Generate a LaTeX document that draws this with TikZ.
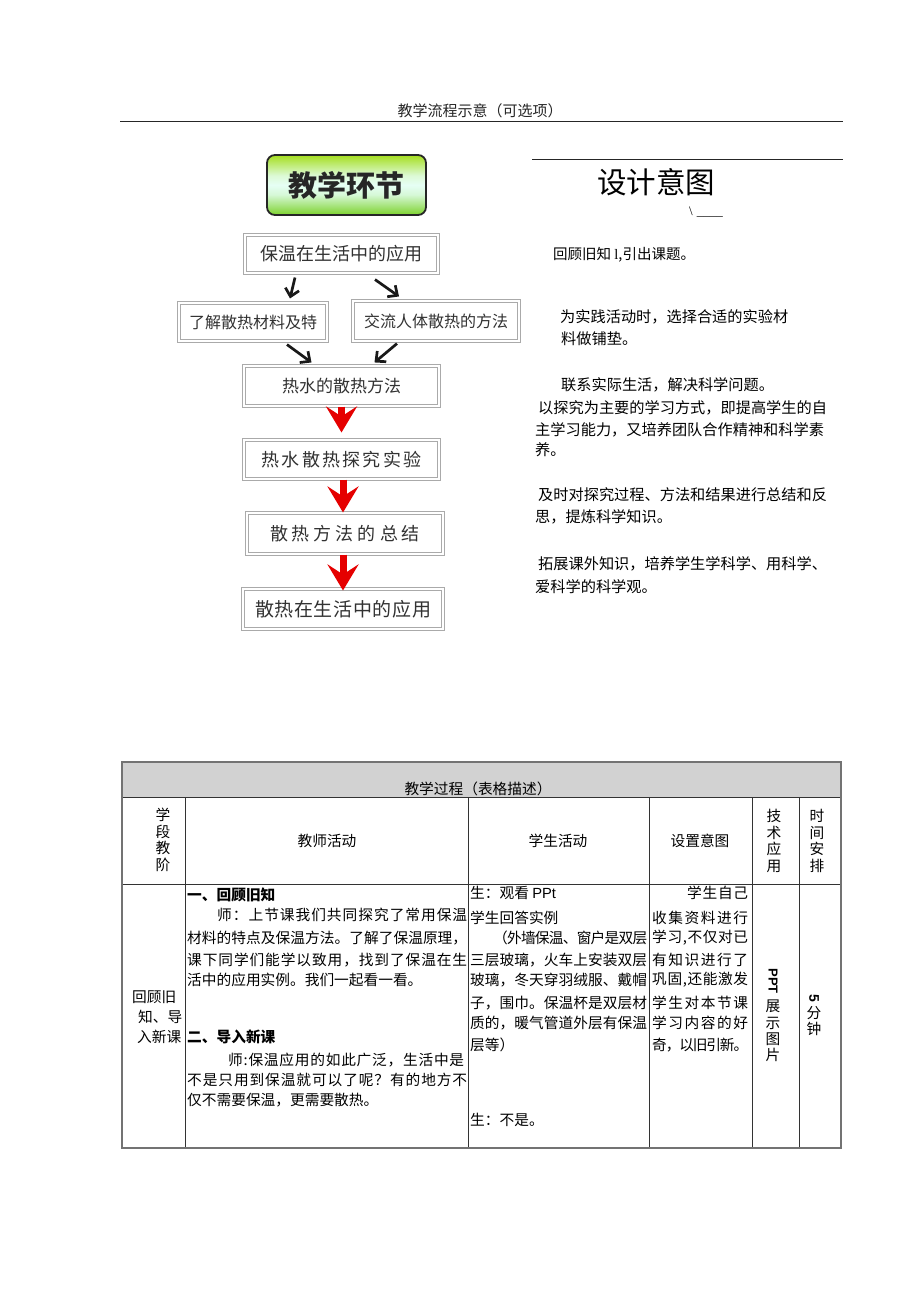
\documentclass[tikz,border=0pt]{standalone}
\usepackage{fontspec}
\setmainfont{Noto Sans CJK SC}
\newfontfamily\latsans{Liberation Sans}
\newfontfamily\latserif{Liberation Serif}
\usetikzlibrary{arrows.meta,calc}
\definecolor{limetop}{RGB}{165,222,30}
\definecolor{palemid}{RGB}{230,255,245}
\definecolor{greenbot}{RGB}{125,210,45}
\definecolor{boxline}{RGB}{170,170,170}
\definecolor{boxtext}{RGB}{50,50,50}
\definecolor{titlegray}{RGB}{210,210,210}
\pgfdeclareverticalshading{greenband}{100bp}{color(0bp)=(greenbot); color(25bp)=(greenbot); color(42bp)=(palemid!85!greenbot); color(50bp)=(palemid); color(58bp)=(palemid!85!limetop); color(75bp)=(limetop); color(100bp)=(limetop)}
\makeatletter
\def\jline#1#2{\makebox[#1][s]{\jl@#2\@nil}}
\def\jl@#1#2{#1\ifx#2\@nil\else\hspace{0pt plus 1fil minus 2pt}\expandafter\jl@\expandafter#2\fi}
\makeatother
\tikzset{
  flowbox/.style={draw=boxline, double=white, double distance=1.5pt, line width=1.1pt,
    inner sep=0pt, text=boxtext},
  blackarrow/.style={line width=2.7pt, black!90, -{Straight Barb[length=7.5pt,width=14pt]}},
  redarrow/.style={red!90!black, line width=7pt, -{Stealth[length=26pt,width=31pt,inset=10pt]}},
  tt/.style={inner sep=0pt, anchor=west, font=\fontsize{14.7}{17}\selectfont},
  rt/.style={inner sep=0pt, anchor=west, font=\fontsize{15.2}{17}\selectfont},
  vt/.style={inner sep=0pt, align=center, font=\fontsize{14.7}{16.7}\selectfont},
  grid/.style={line width=0.8pt, black!80},
}
\begin{document}
\begin{tikzpicture}[x=1pt,y=-1pt]
\useasboundingbox (0,0) rectangle (920,1301);
\fill[white] (0,0) rectangle (920,1301);

% header
\node[inner sep=0pt, font=\fontsize{15}{15}\selectfont, text=black!85] (hdr) at (480,111) {教学流程示意（可选项）};
\draw[line width=0.9pt, black!85] (120,121) -- (843,121);

% flowchart
\node[draw=black!85, line width=1.8pt, rounded corners=8pt, shading=greenband, shading angle=0,
  minimum width=159pt, minimum height=60pt, inner sep=0pt, font=\fontsize{29}{29}\selectfont\bfseries, text=black!85]
  (b0) at (346.5,185) {教学环节};
\node[flowbox, minimum width=193pt, minimum height=38pt, font=\fontsize{18}{18}\selectfont] (b1) at (341.5,254) {保温在生活中的应用};
\node[flowbox, minimum width=148pt, minimum height=38pt, font=\fontsize{16}{16}\selectfont] (b2) at (253,322) {了解散热材料及特};
\node[flowbox, minimum width=166pt, minimum height=40pt, font=\fontsize{16}{16}\selectfont] (b3) at (436,321) {交流人体散热的方法};
\node[flowbox, minimum width=195pt, minimum height=40pt, font=\fontsize{17}{17}\selectfont] (b4) at (341.5,386) {热水的散热方法};
\node[flowbox, minimum width=195pt, minimum height=39pt, font=\fontsize{18}{18}\selectfont] (b5) at (341.5,459.5) {\jline{160pt}{热水散热探究实验}};
\node[flowbox, minimum width=196pt, minimum height=41pt, font=\fontsize{18}{18}\selectfont] (b6) at (345,533.5) {\jline{150pt}{散热方法的总结}};
\node[flowbox, minimum width=200pt, minimum height=40pt, font=\fontsize{19}{19}\selectfont] (b7) at (343,609) {\jline{176pt}{散热在生活中的应用}};

\draw[blackarrow] ($(b1.south)+(-46.5,4)$) -- ($(b2.north)+(37,-4)$);
\draw[blackarrow] ($(b1.south)+(33.5,6)$) -- ($(b3.north)+(-37,-4)$);
\draw[blackarrow] ($(b2.south)+(34,3)$) -- ($(b4.north)+(-30,-3)$);
\draw[blackarrow] ($(b3.south)+(-39,2)$) -- ($(b4.north)+(33,-3)$);

\draw[redarrow] (b4.south) -- ($(b4.south |- b5.north)+(0,-7)$);
\draw[redarrow] ($(b5.south)+(1.5,0)$) -- ($(b5.south |- b6.north)+(1.5,0)$);
\draw[redarrow] ($(b6.south)+(-2,0)$) -- ($(b6.south |- b7.north)+(-2,2)$);

% right column
\draw[line width=0.7pt, black!85] (532,159) -- (843,159);
\node[inner sep=0pt, font=\fontsize{29.5}{30}\selectfont] (sj) at (656,182) {设计意图};
\node[inner sep=0pt, anchor=base west, font=\latserif\fontsize{13}{13}\selectfont] (bs) at (689,215) {\textbackslash\hspace{4pt}\_\_\_\_};
\node[rt, font=\fontsize{14.5}{17}\selectfont] (r1) at (553,255) {回顾旧知 {\latserif l},引出课题。};
\node[rt] (r2) at (560,317) {为实践活动时，选择合适的实验材};
\node[rt] (r3) at (561,339) {料做铺垫。};
\node[rt] (r4) at (561,385) {联系实际生活，解决科学问题。};
\node[rt] (r5) at (538,408) {以探究为主要的学习方式，即提高学生的自};
\node[rt] (r6) at (535,430) {主学习能力，又培养团队合作精神和科学素};
\node[rt] (r7) at (535,450) {养。};
\node[rt] (r8) at (538,495) {及时对探究过程、方法和结果进行总结和反};
\node[rt] (r9) at (535,517) {思，提炼科学知识。};
\node[rt] (r10) at (538,564) {拓展课外知识，培养学生学科学、用科学、};
\node[rt] (r11) at (535,587) {爱科学的科学观。};

% table
\fill[titlegray] (122,762) rectangle (841,797);
\draw[grid] (122,797) -- (841,797);
\draw[grid] (122,884) -- (841,884);
\foreach \x in {185,468,649,752,799} {\draw[grid] (\x,797) -- (\x,1148);}
\draw[line width=1.6pt, black!55] (122,762) rectangle (841,1148);

\node[inner sep=0pt, font=\fontsize{14.7}{17}\selectfont] (tt0) at (478,789) {教学过程（表格描述）};
\node[vt] (h1) at (163,840) {学\\段\\教\\阶};
\node[inner sep=0pt, font=\fontsize{14.7}{17}\selectfont] (h2) at (327,841) {教师活动};
\node[inner sep=0pt, font=\fontsize{14.7}{17}\selectfont] (h3) at (558,841) {学生活动};
\node[inner sep=0pt, font=\fontsize{14.7}{17}\selectfont] (h4) at (700,841) {设置意图};
\node[vt] (h5) at (774,841) {技\\术\\应\\用};
\node[vt] (h6) at (817,841) {时\\间\\安\\排};

% col1
\node[tt] (c1a) at (132,997) {回顾旧};
\node[tt] (c1b) at (138,1017) {知、导};
\node[tt] (c1c) at (137,1037) {入新课};

% col2
\node[tt, font=\fontsize{14.7}{17}\selectfont\bfseries] (c2a) at (187,895) {一、回顾旧知};
\node[tt] (c2b) at (217,915) {\jline{250pt}{师：上节课我们共同探究了常用保温}};
\node[tt] (c2c) at (187,938) {\jline{280pt}{材料的特点及保温方法。了解了保温原理，}};
\node[tt] (c2d) at (187,960) {\jline{280pt}{课下同学们能学以致用，找到了保温在生}};
\node[tt] (c2e) at (187,980) {活中的应用实例。我们一起看一看。};
\node[tt, font=\fontsize{14.7}{17}\selectfont\bfseries] (c2f) at (187,1037) {二、导入新课};
\node[tt] (c2g) at (228,1060) {\jline{236pt}{师:保温应用的如此广泛，生活中是}};
\node[tt] (c2h) at (187,1080) {\jline{280pt}{不是只用到保温就可以了呢？有的地方不}};
\node[tt] (c2i) at (187,1100) {仅不需要保温，更需要散热。};

% col3
\node[tt] (c3a) at (470,893) {生：观看 {\latsans PPt}};
\node[tt] (c3b) at (470,918) {学生回答实例};
\node[tt] (c3c) at (493,938) {\jline{154pt}{（外墙保温、窗户是双层}};
\node[tt] (c3d) at (470,960) {\jline{177pt}{三层玻璃，火车上安装双层}};
\node[tt] (c3e) at (470,980) {\jline{177pt}{玻璃，冬天穿羽绒服、戴帽}};
\node[tt] (c3f) at (470,1003) {\jline{177pt}{子，围巾。保温杯是双层材}};
\node[tt] (c3g) at (470,1023) {\jline{177pt}{质的，暖气管道外层有保温}};
\node[tt] (c3h) at (470,1045) {层等）};
\node[tt] (c3i) at (470,1120) {生：不是。};

% col4
\node[tt] (c4a) at (687,893) {\jline{61pt}{学生自己}};
\node[tt] (c4b) at (652,918) {\jline{96pt}{收集资料进行}};
\node[tt] (c4c) at (652,938) {\jline{96pt}{学习,不仅对已}};
\node[tt] (c4d) at (652,960) {\jline{96pt}{有知识进行了}};
\node[tt] (c4e) at (652,980) {\jline{96pt}{巩固,还能激发}};
\node[tt] (c4f) at (652,1003) {\jline{96pt}{学生对本节课}};
\node[tt] (c4g) at (652,1023) {\jline{96pt}{学习内容的好}};
\node[tt] (c4h) at (652,1045) {\jline{96pt}{奇，以旧引新。}};

% col5
\node[inner sep=0pt, rotate=-90, font=\latsans\fontsize{13}{13}\selectfont\bfseries] (c5a) at (773,981) {PPT};
\node[vt, font=\fontsize{14.7}{16.2}\selectfont] (c5b) at (773,1031) {展\\示\\图\\片};

% col6
\node[inner sep=0pt, rotate=-90, font=\latsans\fontsize{14}{14}\selectfont\bfseries] (c6a) at (814,998) {5};
\node[vt, font=\fontsize{14.7}{15.5}\selectfont] (c6b) at (814,1021) {分\\钟};
\end{tikzpicture}
\end{document}
